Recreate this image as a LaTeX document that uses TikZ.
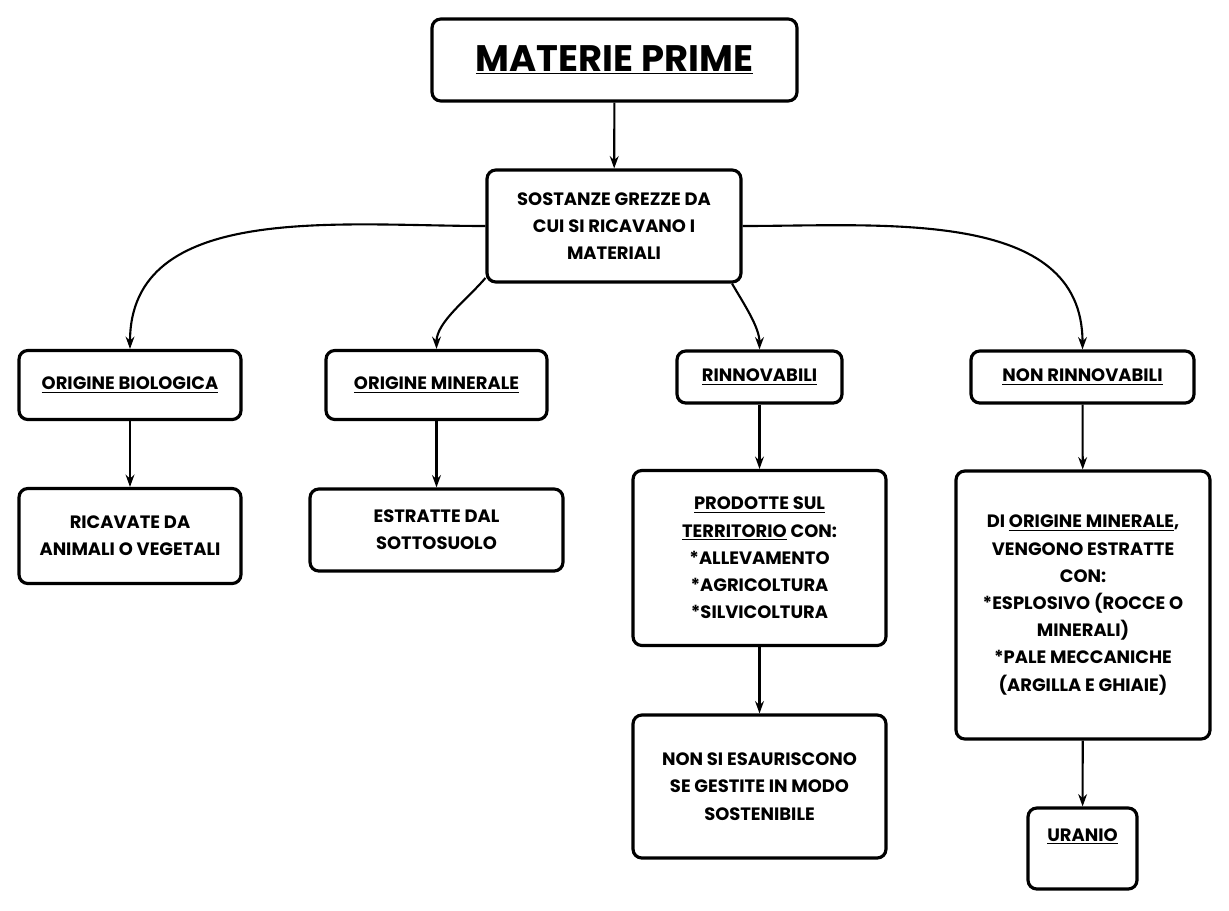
\documentclass[tikz,border=0pt]{standalone}
\usepackage{fontspec}
\setmainfont{Poppins}
\usetikzlibrary{positioning,arrows.meta}
\newcommand{\uln}[1]{\underline{#1}}

\begin{document}
\begin{tikzpicture}[x=0.02cm,y=-0.02cm]
        \tikzstyle{box} = [draw, line width=1.8pt, rounded corners=5pt, align=center, font=\bfseries\fontsize{10.2}{15.5}\selectfont, inner sep=2pt]
        \tikzstyle{link} = [-{Stealth[length=7pt,width=5pt]}, line width=1.2pt]
        \useasboundingbox (0,0) rectangle (1229,910);
        \node (title) [box, minimum width=7.3cm, minimum height=1.64cm, font=\bfseries\fontsize{21}{26}\selectfont] at (614.5,60) {\uln{MATERIE PRIME}};
        \node (raw) [box, minimum width=5.08cm, minimum height=2.24cm] at (614,226) {SOSTANZE GREZZE DA\\CUI SI RICAVANO I\\MATERIALI};
        \node (bio) [box, minimum width=4.44cm, minimum height=1.38cm] at (130,385) {\uln{ORIGINE BIOLOGICA}};
        \node (mineral) [box, minimum width=4.42cm, minimum height=1.38cm] at (436.5,385) {\uln{ORIGINE MINERALE}};
        \node (renew) [box, minimum width=3.3cm, minimum height=1.04cm] at (759.5,377) {\uln{RINNOVABILI}};
        \node (nonrenew) [box, minimum width=4.46cm, minimum height=1.04cm] at (1082.5,377) {\uln{NON RINNOVABILI}};
        \node (animals) [box, minimum width=4.44cm, minimum height=1.9cm] at (130,536) {RICAVATE DA\\ANIMALI O VEGETALI};
        \node (subsoil) [box, minimum width=5.06cm, minimum height=1.64cm] at (436.5,530) {ESTRATTE DAL\\SOTTOSUOLO};
        \node (farming) [box, minimum width=5.06cm, minimum height=3.5cm] at (759.5,558) {\uln{PRODOTTE SUL}\\\uln{TERRITORIO} CON:\\*ALLEVAMENTO\\*AGRICOLTURA\\*SILVICOLTURA};
        \node (mining) [box, minimum width=5.08cm, minimum height=5.36cm] at (1083,605) {DI \uln{ORIGINE MINERALE},\\VENGONO ESTRATTE\\CON:\\*ESPLOSIVO (ROCCE O\\MINERALI)\\*PALE MECCANICHE\\(ARGILLA E GHIAIE)};
        \node (endless) [box, minimum width=5.06cm, minimum height=2.86cm] at (759.5,786.5) {NON SI ESAURISCONO\\SE GESTITE IN MODO\\SOSTENIBILE};
        \node (uranium) [box, minimum width=2.18cm, minimum height=1.62cm, text depth=0.55cm] at (1082.5,848.5) {\uln{URANIO}};
        \draw[link] (title) -- (raw);
        \draw[link] (raw.west) to[out=180,in=90] (bio.north);
        \draw[link] (raw.202) to[out=230,in=90,looseness=0.8] (mineral.north);
        \draw[link] (raw.334) to[out=300,in=90,looseness=0.8] (renew.north);
        \draw[link] (raw.east) to[out=0,in=90] (nonrenew.north);
        \draw[link] (bio) -- (animals);
        \draw[link] (mineral) -- (subsoil);
        \draw[link] (renew) -- (farming);
        \draw[link] (nonrenew) -- (mining);
        \draw[link] (farming) -- (endless);
        \draw[link] (mining) -- (uranium);
\end{tikzpicture}
\end{document}
